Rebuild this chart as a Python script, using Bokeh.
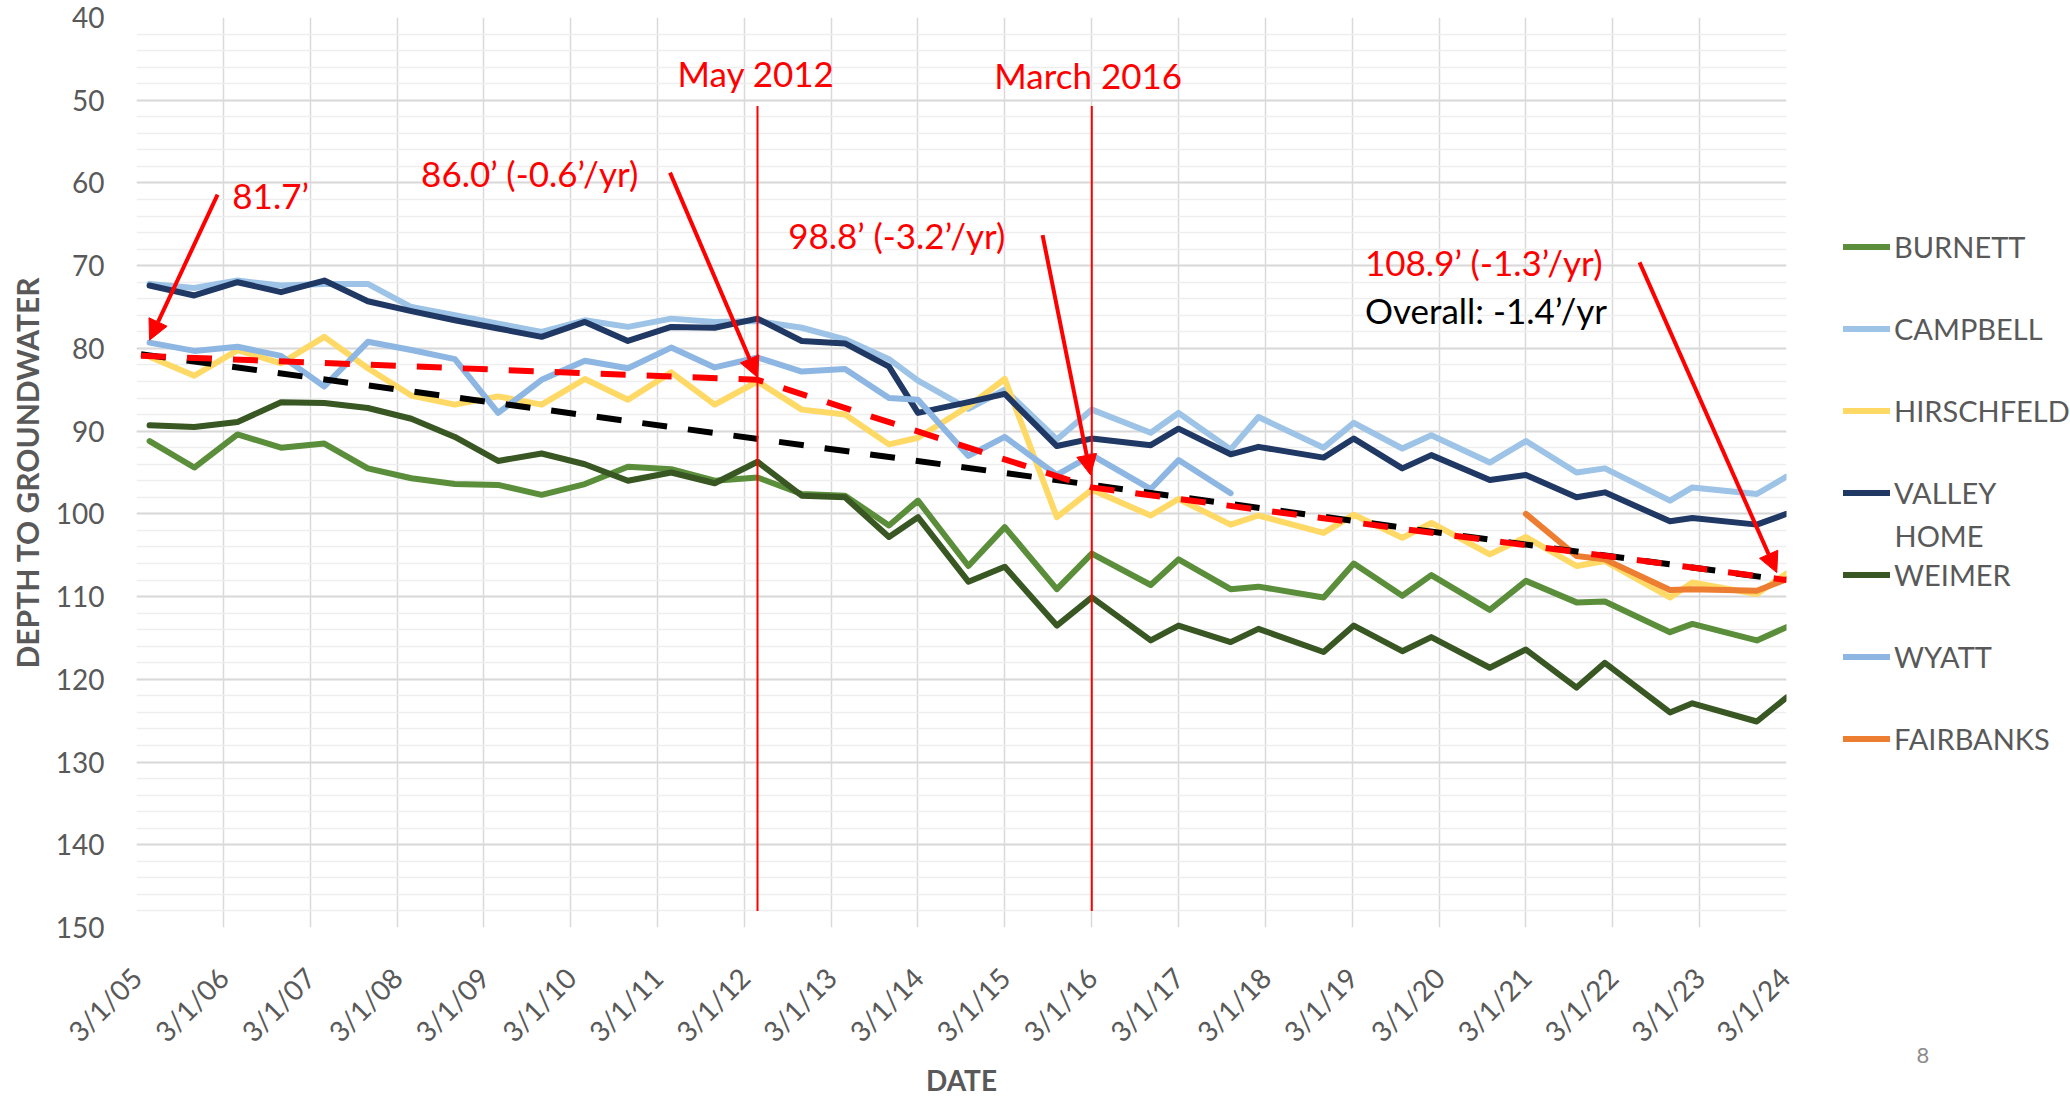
import numpy as np
import pandas as pd
from bokeh.plotting import figure
from bokeh.layouts import row
from bokeh.models import (Range1d, FixedTicker, Legend, LegendItem, Label, Arrow, NormalHead,
                          Title)
from bokeh.embed import file_html
from bokeh.resources import INLINE

# ---------------- data ----------------
dates = ["2005-04-25", "2005-10-30", "2006-04-30", "2006-10-30", "2007-04-30", "2007-10-30",
         "2008-04-30", "2008-10-30", "2009-04-30", "2009-10-30", "2010-04-30", "2010-10-28",
         "2011-04-28", "2011-10-28", "2012-04-25", "2012-10-28", "2013-04-28", "2013-10-30",
         "2014-03-01", "2014-09-29", "2015-03-01", "2015-10-06", "2016-03-01", "2016-11-04",
         "2017-03-01", "2017-10-06", "2018-01-31", "2018-11-01", "2019-03-08", "2019-09-28",
         "2020-01-28", "2020-09-30", "2021-03-01", "2021-09-30", "2022-01-27", "2022-10-28",
         "2023-01-30", "2023-10-28", "2024-03-01"]

burnett = [91.2, 94.4, 90.4, 92.0, 91.5, 94.5, 95.7, 96.4, 96.5, 97.7, 96.4, 94.3, 94.6,
           96.0, 95.6, 97.6, 97.8, 101.4, 98.4, 106.3, 101.6, 109.1, 104.8, 108.6, 105.5,
           109.1, 108.8, 110.1, 106.0, 109.9, 107.4, 111.6, 108.1, 110.7, 110.6, 114.3,
           113.3, 115.3, 113.7]
campbell = [72.2, 72.7, 71.8, 72.4, 72.2, 72.2, 75.0, 76.0, 77.0, 78.0, 76.6, 77.4, 76.4,
            76.8, 76.7, 77.5, 78.9, 81.3, 83.9, 87.3, 85.0, 91.0, 87.4, 90.2, 87.8, 92.2,
            88.3, 92.0, 89.0, 92.1, 90.5, 93.8, 91.2, 95.0, 94.5, 98.4, 96.8, 97.6, 95.5]
hirschfeld = [81.0, 83.3, 80.2, 81.8, 78.6, 82.4, 85.7, 86.8, 85.8, 86.8, 83.7, 86.2, 82.9,
              86.8, 84.0, 87.4, 88.0, 91.6, 90.8, 87.0, 83.7, 100.4, 97.1, 100.2, 98.2,
              101.3, 100.2, 102.3, 100.1, 102.9, 101.1, 104.9, 102.8, 106.3, 105.7, 110.1,
              108.3, 109.7, 107.2]
valley_home = [72.4, 73.6, 72.0, 73.2, 71.8, 74.3, 75.5, 76.6, 77.6, 78.6, 76.8, 79.1, 77.4,
               77.5, 76.4, 79.1, 79.4, 82.2, 87.8, 86.5, 85.5, 91.8, 90.9, 91.7, 89.7, 92.8,
               91.9, 93.2, 90.9, 94.5, 92.9, 95.9, 95.3, 98.0, 97.4, 100.9, 100.5, 101.3, 100.0]
weimer = [89.3, 89.5, 88.9, 86.5, 86.6, 87.2, 88.5, 90.7, 93.6, 92.7, 94.0, 96.0, 95.0,
          96.3, 93.7, 97.8, 98.0, 102.8, 100.4, 108.2, 106.4, 113.5, 110.1, 115.3, 113.5,
          115.5, 113.9, 116.7, 113.5, 116.6, 114.9, 118.6, 116.4, 121.0, 118.0, 124.0,
          122.9, 125.1, 122.2]
wyatt = [79.3, 80.3, 79.8, 80.9, 84.6, 79.2, 80.2, 81.3, 87.8, 83.8, 81.5, 82.4, 79.9,
         82.3, 81.1, 82.8, 82.5, 86.0, 86.2, 93.0, 90.7, 95.3, 92.9, 97.0, 93.5, 97.5,
         None, None, None, None, None, None, None, None, None, None, None, None, None]
fairbanks = [None] * 32 + [100.0, 105.1, 105.5, 109.2, 109.1, 109.3, 107.9]

series_names = ["BURNETT", "CAMPBELL", "HIRSCHFELD", "VALLEY HOME", "WEIMER", "WYATT", "FAIRBANKS"]
series_values = [burnett, campbell, hirschfeld, valley_home, weimer, wyatt, fairbanks]
series_colors = ["#5B8E3A", "#9DC3E6", "#FFD966", "#203864", "#385723", "#8DB7E2", "#ED7D31"]

# trend lines
overall_trend_dates = ["2005-03-20", "2024-01-25"]
overall_trend_depth = [80.7, 107.9]
period_trend_dates = ["2005-03-20", "2012-04-25", "2016-03-01", "2024-03-01"]
period_trend_depth = [80.9, 83.8, 96.8, 108.0]

# event markers
marker_dates = ["2012-04-25", "2016-03-01"]
marker_top = 50.7
marker_bottom = 148.0

# annotations
note_texts = ["81.7\u2019", "86.0\u2019 (-0.6\u2019/yr)", "May 2012", "March 2016",
              "98.8\u2019 (-3.2\u2019/yr)", "108.9\u2019 (-1.3\u2019/yr)", "Overall: -1.4\u2019/yr"]
note_dates = ["2006-04-08", "2008-06-10", "2011-05-25", "2015-01-16", "2012-09-01",
              "2019-04-24", "2019-04-24"]
note_depths = [61.5, 58.8, 46.7, 47.0, 66.3, 69.5, 75.4]
note_colors = ["#FF0000"] * 6 + ["#000000"]

arrow_tail_dates = ["2006-02-05", "2011-04-23", "2015-08-07", "2022-06-22"]
arrow_tail_depths = [61.4, 58.75, 66.3, 69.6]
arrow_head_dates = ["2005-04-25", "2012-04-25", "2016-02-25", "2024-01-20"]
arrow_head_depths = [79.0, 83.5, 95.3, 107.1]

x_tick_labels = ["3/1/05", "3/1/06", "3/1/07", "3/1/08", "3/1/09", "3/1/10", "3/1/11",
                 "3/1/12", "3/1/13", "3/1/14", "3/1/15", "3/1/16", "3/1/17", "3/1/18",
                 "3/1/19", "3/1/20", "3/1/21", "3/1/22", "3/1/23", "3/1/24"]
y_ticks = [40, 50, 60, 70, 80, 90, 100, 110, 120, 130, 140, 150]
y_minor_ticks = list(range(40, 151, 2))

legend_labels = ["BURNETT", "CAMPBELL", "HIRSCHFELD", "VALLEY", "WEIMER", "WYATT", "FAIRBANKS"]
legend_second_line = "HOME"
page_number = "8"


def to_ms(lst):
    return pd.DatetimeIndex(pd.to_datetime(lst)).asi8 / 1e6


def arr(lst):
    return np.array([np.nan if v is None else v for v in lst], dtype=float)


x = to_ms(dates)
x_ticks = to_ms(pd.to_datetime(x_tick_labels, format="%m/%d/%y"))

GRAY = "#595959"
FONT = "Lato"
LW = 6
TOP, BOTTOM, H = 17, 173, 1100

p = figure(x_axis_type="datetime", width=1796, height=H,
           min_border_left=136, min_border_right=10, min_border_top=TOP, min_border_bottom=BOTTOM,
           x_range=Range1d(x_ticks[0], x_ticks[-1]), y_range=Range1d(150, 40),
           output_backend="svg", toolbar_location=None, background_fill_color="white",
           border_fill_color="white")
p.outline_line_color = None

# axes
p.xaxis.ticker = FixedTicker(ticks=list(x_ticks))
p.xaxis.major_label_overrides = {int(t): lab for t, lab in zip(x_ticks, x_tick_labels)}
p.xaxis.major_label_orientation = np.pi / 4
p.yaxis.ticker = FixedTicker(ticks=y_ticks, minor_ticks=y_minor_ticks)
for ax in (p.xaxis[0], p.yaxis[0]):
    ax.axis_line_color = None
    ax.major_tick_line_color = None
    ax.minor_tick_line_color = None
    ax.major_tick_out = 0
    ax.major_tick_in = 0
    ax.minor_tick_out = 0
    ax.minor_tick_in = 0
    ax.major_label_text_font = FONT
    ax.major_label_text_font_size = "28px"
    ax.major_label_text_color = GRAY
    ax.axis_label_text_font = FONT
    ax.axis_label_text_font_style = "bold"
    ax.axis_label_text_color = GRAY
p.yaxis.axis_label = "DEPTH TO GROUNDWATER"
p.yaxis.axis_label_text_font_size = "30px"
p.yaxis.major_label_standoff = 32
p.yaxis.axis_label_standoff = 8
p.xaxis.axis_label = "DATE"
p.xaxis.axis_label_text_font_size = "28px"
p.xaxis.major_label_standoff = 45
p.xaxis.axis_label_standoff = 0

# grids
p.xgrid.grid_line_color = "#D9D9D9"
p.xgrid.grid_line_width = 1.5
p.ygrid.grid_line_color = "#D9D9D9"
p.ygrid.grid_line_width = 2
p.ygrid.minor_grid_line_color = "#EEEEEE"
p.ygrid.minor_grid_line_width = 1.5

# series
for name, vals, col in zip(series_names, series_values, series_colors):
    p.line(x, arr(vals), line_color=col, line_width=LW, line_join="round", line_cap="round")

# trend lines
p.line(to_ms(overall_trend_dates), overall_trend_depth, line_color="black", line_width=6,
       line_dash="25 21")
p.line(to_ms(period_trend_dates), period_trend_depth, line_color="#FF0000", line_width=6,
       line_dash="25 21")

# event markers
mx = to_ms(marker_dates)
p.segment(x0=mx, y0=[marker_top] * len(mx), x1=mx, y1=[marker_bottom] * len(mx),
          line_color="#FF0000", line_width=2)

# arrows
tx, hx = to_ms(arrow_tail_dates), to_ms(arrow_head_dates)
for x0, y0, x1, y1 in zip(tx, arrow_tail_depths, hx, arrow_head_depths):
    p.add_layout(Arrow(end=NormalHead(size=20, fill_color="#FF0000", line_color="#FF0000"),
                       x_start=x0, y_start=y0, x_end=x1, y_end=y1,
                       line_color="#FF0000", line_width=4))

# notes
for t, d, dep, c in zip(note_texts, to_ms(note_dates), note_depths, note_colors):
    p.add_layout(Label(x=d, y=dep, text=t, text_color=c, text_font=FONT,
                       text_font_size="35px", text_baseline="alphabetic", text_align="left"))

# ---------------- legend panel ----------------
q = figure(width=274, height=H, x_range=Range1d(0, 1), y_range=Range1d(0, 1),
           x_axis_location=None, y_axis_location=None,
           min_border_left=0, min_border_right=0, min_border_top=TOP, min_border_bottom=BOTTOM,
           output_backend="svg", toolbar_location=None, background_fill_color="white",
           border_fill_color="white")
q.outline_line_color = None
q.grid.visible = False
items = []
for lab, col in zip(legend_labels, series_colors):
    # swatch-only renderers (their points lie outside the visible range)
    r = q.line(x=[5, 6], y=[5, 6], line_color=col, line_width=LW, line_cap="round")
    items.append(LegendItem(label=lab, renderers=[r]))
legend = Legend(items=items, location=(47, 168), orientation="vertical",
                glyph_width=47, glyph_height=41, label_height=41, spacing=41,
                padding=0, margin=0, label_standoff=4,
                label_text_font=FONT, label_text_font_size="29px", label_text_color=GRAY,
                border_line_color=None, background_fill_alpha=0)
q.add_layout(legend)
q.add_layout(Label(x=98, y=392, x_units="screen", y_units="screen", text=legend_second_line,
                   text_font=FONT, text_font_size="29px", text_color=GRAY,
                   text_baseline="middle", text_align="left"))
# vertical spacer below the frame, then the slide number
q.add_layout(Title(text=" ", text_font_size="2px", standoff=109), "below")
q.add_layout(Title(text=page_number, align="left", offset=120, standoff=10,
                   text_font=FONT, text_font_size="22px", text_font_style="normal",
                   text_color="#8C8C8C"), "below")

layout = row(p, q)
open("out.html", "w").write(file_html(layout, INLINE))
